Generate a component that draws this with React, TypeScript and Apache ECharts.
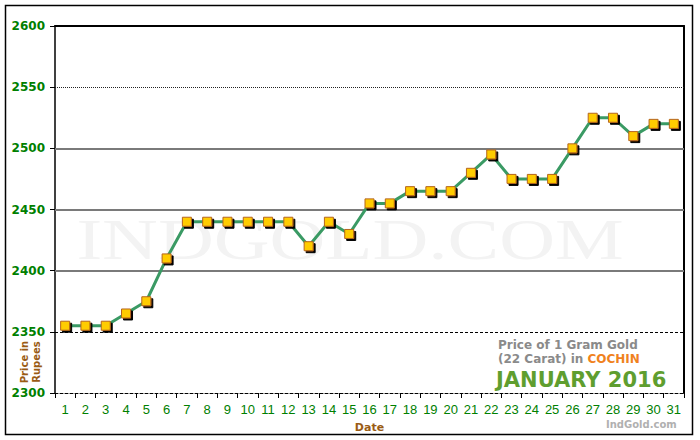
import React, { useEffect, useRef } from "react";
import * as echarts from "echarts";

const days = Array.from({ length: 31 }, (_, i) => String(i + 1));
const prices = [
  2355, 2355, 2355, 2365, 2375, 2410, 2440, 2440, 2440, 2440, 2440, 2440, 2420,
  2440, 2430, 2455, 2455, 2465, 2465, 2465, 2480, 2495, 2475, 2475, 2475, 2500,
  2525, 2525, 2510, 2520, 2520,
];
const yMin = 2300;
const yMax = 2600;
const yStep = 50;
const solidGrid = [2500, 2450, 2400];
const dottedGrid = [2550];
const dashedGrid = [2350];
const topLine = [2600];

export default function App() {
  const ref = useRef<HTMLDivElement>(null);
  useEffect(() => {
    const chart = echarts.init(ref.current!, null, { renderer: "svg" });
    const green = "#008000";
    const brown = "#9a5b14";
    const verdana = "'DejaVu Sans', Verdana, sans-serif";
    chart.setOption({
      animation: false,
      backgroundColor: "#fff",
      grid: { left: 55, right: 16, top: 26, bottom: 47, containLabel: false, outerBoundsMode: "none" },
      graphic: [
        {
          type: "rect",
          shape: { x: 5.5, y: 5.5, width: 687, height: 429 },
          style: { fill: "none", stroke: "#000", lineWidth: 1.5 },
          z: 0,
        },
        {
          type: "text",
          x: 350,
          y: 240,
          scaleX: 1.38,
          z: 0,
          style: {
            text: "INDGOLD.COM",
            font: "56px 'Liberation Serif', serif",
            fill: "#f3f3f3",
            align: "center",
            verticalAlign: "middle",
          },
        },
        {
          type: "text",
          x: 30,
          y: 362,
          rotation: Math.PI / 2,
          z: 10,
          style: {
            text: "Price in\nRupees",
            font: `bold 10px ${verdana}`,
            lineHeight: 12,
            fill: brown,
            align: "center",
            verticalAlign: "middle",
          },
        },
        {
          type: "text",
          x: 498,
          y: 339,
          z: 10,
          style: {
            text: "Price of 1 Gram Gold",
            font: `bold 12px ${verdana}`,
            fill: "#8a8a8a",
          },
        },
        {
          type: "text",
          x: 498,
          y: 353,
          z: 10,
          style: {
            text: "{g|(22 Carat) in }{o|COCHIN}",
            rich: {
              g: { font: `bold 12px ${verdana}`, fill: "#8a8a8a" },
              o: { font: `bold 12px ${verdana}`, fill: "#f0821e" },
            },
          },
        },
        {
          type: "text",
          x: 496,
          y: 369,
          z: 10,
          style: {
            text: "JANUARY 2016",
            font: `bold 21px ${verdana}`,
            fill: "#5f9e2f",
          },
        },
        {
          type: "text",
          x: 606,
          y: 419,
          z: 10,
          style: {
            text: "IndGold.com",
            font: `bold 10px ${verdana}`,
            fill: "#b0b0b0",
          },
        },
      ],
      xAxis: [
        {
          type: "category",
          data: days,
          boundaryGap: true,
          name: "Date",
          nameLocation: "middle",
          nameGap: 29,
          nameTextStyle: {
            color: brown,
            fontWeight: "bold",
            fontSize: 11,
            fontFamily: verdana,
          },
          axisLine: { lineStyle: { color: "#000", type: [3, 2], width: 1 } },
          axisTick: { show: true, length: 5, lineStyle: { color: "#000" } },
          axisLabel: {
            color: green,
            fontSize: 13,
            margin: 10,
            interval: 0,
            fontFamily: "'Liberation Sans', Arial, sans-serif",
          },
        },
        {
          type: "category",
          data: days,
          position: "top",
          axisLine: { show: true, lineStyle: { color: "#000", width: 2 } },
          axisTick: { show: false },
          axisLabel: { show: false },
        },
      ],
      yAxis: [
        {
          type: "value",
          min: yMin,
          max: yMax,
          interval: yStep,
          axisLine: { show: true, lineStyle: { color: "#000", width: 1.5 } },
          axisTick: { show: true, length: 5, lineStyle: { color: "#000" } },
          axisLabel: {
            color: green,
            fontSize: 12,
            fontWeight: "bold",
            margin: 10,
            fontFamily: verdana,
            formatter: (v: number) => String(v),
          },
          splitLine: { show: false },
        },
        {
          type: "value",
          min: yMin,
          max: yMax,
          interval: yStep,
          position: "right",
          axisLine: { show: true, lineStyle: { color: "#000", width: 2 } },
          axisTick: { show: false },
          axisLabel: { show: false },
          splitLine: { show: false },
        },
      ],
      series: [
        {
          type: "line",
          data: [],
          silent: true,
          markLine: {
            silent: true,
            symbol: "none",
            label: { show: false },
            data: [
              ...solidGrid.map((v) => ({
                yAxis: v,
                lineStyle: { color: "#7a7a7a", width: 2, type: "solid" },
              })),
              ...dottedGrid.map((v) => ({
                yAxis: v,
                lineStyle: { color: "#222", width: 1, type: [1, 1] },
              })),
              ...dashedGrid.map((v) => ({
                yAxis: v,
                lineStyle: { color: "#000", width: 1, type: [3, 2] },
              })),
              ...topLine.map((v) => ({
                yAxis: v,
                lineStyle: { color: "#000", width: 2, type: "solid" },
              })),
            ],
          },
        },
        {
          type: "line",
          data: prices,
          z: 5,
          symbol: "rect",
          symbolSize: 9,
          showAllSymbol: true,
          lineStyle: { color: "#3a9a64", width: 3 },
          itemStyle: {
            color: "#ffcc00",
            borderColor: "#b5651d",
            borderWidth: 1,
            shadowColor: "#000",
            shadowOffsetX: 2,
            shadowOffsetY: 2,
            shadowBlur: 0,
          },
        },
      ],
    });
    return () => chart.dispose();
  }, []);
  return <div ref={ref} style={{ width: 700, height: 440, position: "absolute", left: 0, top: 0 }} />;
}
